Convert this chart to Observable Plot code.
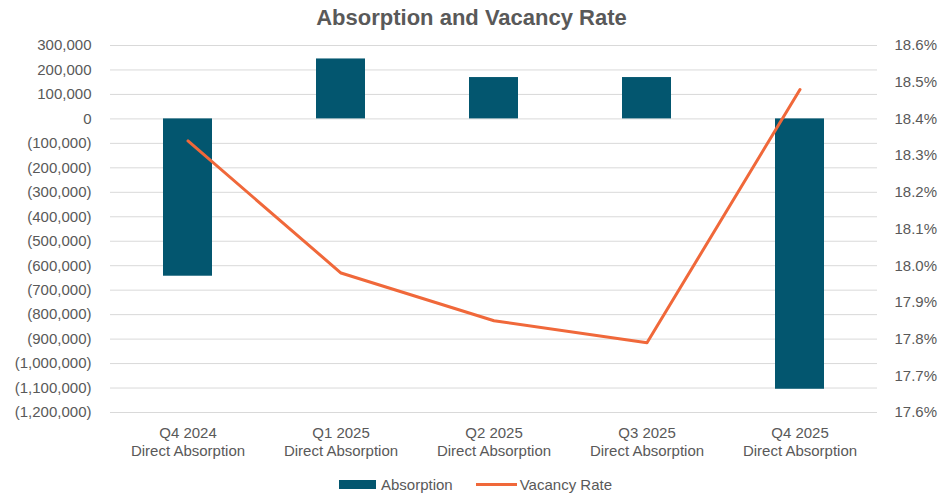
<!DOCTYPE html>
<html><head><meta charset="utf-8">
<script src="https://cdn.jsdelivr.net/npm/d3@7"></script>
<script src="https://cdn.jsdelivr.net/npm/@observablehq/plot@0.6"></script>
<style>
body{margin:0;background:#fff;font-family:"Liberation Sans",Arial,sans-serif;}
#wrap{position:relative;width:943px;height:496px;overflow:hidden;}
#title{position:absolute;left:0;top:0;width:943px;text-align:center;font-weight:bold;font-size:22px;color:#595959;line-height:36px;}
#chart{position:absolute;left:0;top:36px;}
#legend{position:absolute;top:474px;left:339px;height:20px;display:flex;align-items:center;font-size:15px;color:#595959;}
.sw{display:inline-block;width:37px;height:9px;background:#03566F;margin-right:5px;}
.ln{display:inline-block;width:41px;height:3px;background:#F0683A;margin-left:23px;margin-right:3px;}
</style></head>
<body>
<div id="wrap">
  <div id="title">Absorption and Vacancy Rate</div>
  <div id="chart"></div>
  <div id="legend"><span class="sw"></span><span>Absorption</span><span class="ln"></span><span>Vacancy Rate</span></div>
</div>
<script>
const categories = ["Q4 2024", "Q1 2025", "Q2 2025", "Q3 2025", "Q4 2025"];
const categorySuffix = "Direct Absorption";
const absorption = [-643000, 245000, 169000, 169000, -1105000];
const vacancy = [18.34, 17.98, 17.85, 17.79, 18.48];
const absTicks = [300000, 200000, 100000, 0, -100000, -200000, -300000, -400000, -500000, -600000, -700000, -800000, -900000, -1000000, -1100000, -1200000];
const vacTicks = [17.6, 17.7, 17.8, 17.9, 18.0, 18.1, 18.2, 18.3, 18.4, 18.5, 18.6];

const yDomain = [-1200000, 300000];
const vDomain = [17.6, 18.6];
const toY = d3.scaleLinear().domain(vDomain).range(yDomain);

const barData = categories.map((c, i) => ({cat: c, value: absorption[i]}));
const lineData = categories.map((c, i) => ({cat: c, rate: vacancy[i]}));

const fmtAbs = d => d < 0 ? "(" + d3.format(",")(-d) + ")" : d3.format(",")(d);

const chart = Plot.plot({
  width: 943,
  height: 430,
  marginTop: 9,
  marginBottom: 54,
  marginLeft: 110,
  marginRight: 66,
  style: {fontFamily: '"Liberation Sans", Arial, sans-serif', fontSize: "15px", color: "#595959", background: "#fff"},
  x: {domain: categories, paddingInner: 0.683, paddingOuter: 0.3415},
  y: {domain: yDomain},
  marks: [
    Plot.gridY(absTicks, {stroke: "#d9d9d9", strokeOpacity: 1, strokeWidth: 1}),
    Plot.barY(barData, {x: "cat", y: "value", fill: "#03566F"}),
    Plot.line(lineData, {x: "cat", y: d => toY(d.rate), stroke: "#F0683A", strokeWidth: 3, strokeLinejoin: "round", strokeLinecap: "round"}),
    Plot.axisY(absTicks, {anchor: "left", tickSize: 0, tickPadding: 19, tickFormat: fmtAbs, label: null}),
    Plot.axisY(vacTicks.map(v => toY(v)), {anchor: "right", tickSize: 0, tickPadding: 17, tickFormat: d => d3.format(".1f")(toY.invert(d)) + "%", label: null}),
    Plot.axisX({tickSize: 0, tickPadding: 12, tickFormat: d => d + "\n" + categorySuffix, label: null, lineHeight: 1.22})
  ]
});
document.getElementById("chart").appendChild(chart);
</script>
</body></html>
